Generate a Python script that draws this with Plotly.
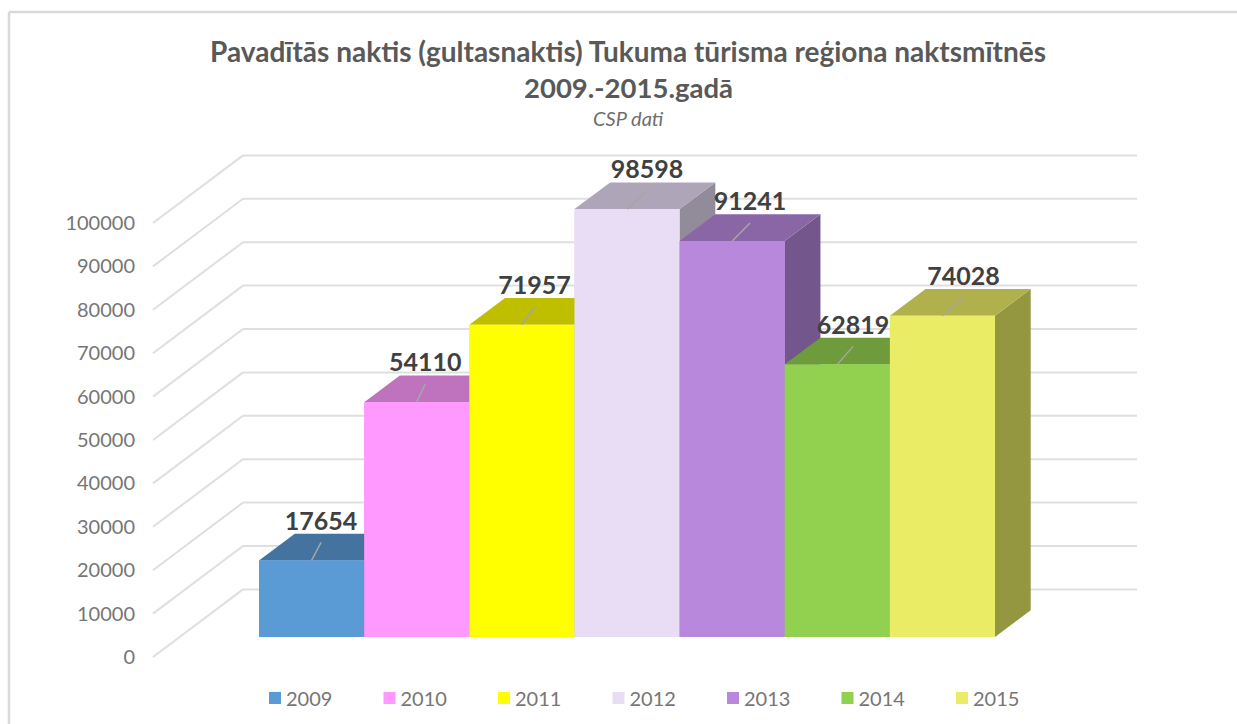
import plotly.graph_objects as go

# ---- data ----
years = ["2009", "2010", "2011", "2012", "2013", "2014", "2015"]
nights = [17654, 54110, 71957, 98598, 91241, 62819, 74028]
front_colors = ["#5B9BD5", "#FF99FF", "#FFFF00", "#E9DCF5", "#B888DD", "#92D050", "#EAEC66"]
top_colors = ["#44739F", "#BF73BF", "#BFBF00", "#AFA5B8", "#8A66A6", "#6E9C3C", "#B0B14D"]
side_colors = ["#3A6186", "#A061A0", "#A0A000", "#928B9A", "#73568C", "#5C8232", "#959640"]
axis_ticks = list(range(0, 100001, 10000))
label_dx = [0.09, 0.08, 0.12, 0.19, 0.17, 0.15, 0.20]   # label shift to the right, in bar widths

title_lines = ["Pavadītās naktis (gultasnaktis) Tukuma tūrisma reģiona naktsmītnēs",
               "2009.-2015.gadā"]
subtitle = "CSP dati"

# ---- geometry of the oblique projection (pixels -> axis units) ----
W, H = 1237, 724
M_LEFT = 136
PX_PER_BAR = 105.14
PX_PER_VAL = 0.00434
X0_PX = 311.6      # pixel of first bar centre
Y0_PX = 657.0      # pixel of value 0 on the wall's front edge

BAR_BASE = (Y0_PX - 637) / PX_PER_VAL
BAR_DX = 35.7 / PX_PER_BAR
BAR_DV = 26.7 / PX_PER_VAL
WALL_LEFT = (153 - X0_PX) / PX_PER_BAR
WALL_DX = 90 / PX_PER_BAR
WALL_DV = 67.6 / PX_PER_VAL
WALL_RIGHT = (1137 - X0_PX) / PX_PER_BAR
LABEL_UP = 37 / PX_PER_VAL
LEADER_UP = 18 / PX_PER_VAL

xr = [(M_LEFT - X0_PX) / PX_PER_BAR, (W - X0_PX) / PX_PER_BAR]
yr = [(Y0_PX - H) / PX_PER_VAL, Y0_PX / PX_PER_VAL]

fig = go.Figure()

# real bars (front faces, provide the legend)
for i, (yr_name, v) in enumerate(zip(years, nights)):
    fig.add_trace(go.Bar(x=[i], y=[v], base=BAR_BASE, width=1, name=yr_name,
                         marker=dict(color=front_colors[i], line=dict(width=0)),
                         hoverinfo="name+y"))


def poly(xs, ys, color):
    fig.add_trace(go.Scatter(x=xs, y=ys, mode="lines", fill="toself", fillcolor=color,
                             line=dict(width=0), showlegend=False, hoverinfo="skip"))


# faces, painted left to right so nearer bars cover farther ones
for i, v in enumerate(nights):
    t = BAR_BASE + v
    l, r = i - 0.5, i + 0.5
    poly([r, r + BAR_DX, r + BAR_DX, r, r],
         [BAR_BASE, BAR_BASE + BAR_DV, t + BAR_DV, t, BAR_BASE], side_colors[i])
    poly([l, r, r + BAR_DX, l + BAR_DX, l], [t, t, t + BAR_DV, t + BAR_DV, t], top_colors[i])
    poly([l, r, r, l, l], [BAR_BASE, BAR_BASE, t, t, BAR_BASE], front_colors[i])

# leader lines
for i, v in enumerate(nights):
    t = BAR_BASE + v
    fig.add_trace(go.Scatter(x=[i, i + label_dx[i]], y=[t, t + LEADER_UP], mode="lines",
                             line=dict(color="#A6A6A6", width=1.5),
                             showlegend=False, hoverinfo="skip"))

# data labels
fig.add_trace(go.Scatter(
    x=[i + label_dx[i] for i in range(len(nights))],
    y=[BAR_BASE + v + LABEL_UP for v in nights],
    mode="text", text=[str(v) for v in nights], textposition="middle center",
    textfont=dict(family="Lato", size=25, color="#404040", weight="bold"),
    showlegend=False, hoverinfo="skip"))

# wall / back gridlines under everything
shapes = []
grid = dict(color="#DFDFDF", width=2)
for v in axis_ticks:
    shapes.append(dict(type="line", layer="below", xref="x", yref="y",
                       x0=WALL_LEFT, y0=v, x1=WALL_LEFT + WALL_DX, y1=v + WALL_DV, line=grid))
    shapes.append(dict(type="line", layer="below", xref="x", yref="y",
                       x0=WALL_LEFT + WALL_DX, y0=v + WALL_DV, x1=WALL_RIGHT, y1=v + WALL_DV, line=grid))

# chart-area border (top and left only are inside the picture)
pw = W - M_LEFT
border = dict(color="#D9D9D9", width=2.5)
bx = (9 - M_LEFT) / pw
by = 1 - 12 / H
shapes.append(dict(type="line", xref="paper", yref="paper", x0=bx, y0=by, x1=1, y1=by, line=border))
shapes.append(dict(type="line", xref="paper", yref="paper", x0=bx, y0=by, x1=bx, y1=0, line=border))

fig.update_layout(
    width=W, height=H, margin=dict(l=M_LEFT, r=0, t=0, b=0, autoexpand=False),
    paper_bgcolor="white", plot_bgcolor="white", barmode="overlay",
    font=dict(family="Lato", color="#6E6E6E"),
    title=dict(text="<b>" + title_lines[0] + "</b>", x=628 / W, xanchor="center",
               y=1 - 52 / H, yanchor="middle",
               font=dict(family="Lato", size=28, color="#595959")),
    xaxis=dict(range=xr, visible=False, fixedrange=True),
    yaxis=dict(range=yr, tickmode="array", tickvals=axis_ticks,
               ticktext=[str(v) for v in axis_ticks], showgrid=False, zeroline=False,
               showline=False, ticks="", tickfont=dict(family="Lato", size=20, color="#767676"),
               fixedrange=True),
    legend=dict(orientation="h", x=(255 - M_LEFT) / pw, xanchor="left", y=1 - 698 / H, yanchor="middle",
                entrywidth=69.5, entrywidthmode="pixels", traceorder="normal",
                font=dict(family="Lato", size=20, color="#767676"), bgcolor="rgba(0,0,0,0)"),
    shapes=shapes,
    annotations=[
        dict(text="<b>" + title_lines[1] + "</b>", xref="paper", yref="paper",
             x=(628 - M_LEFT) / pw, y=1 - 87 / H, yanchor="middle", showarrow=False,
             font=dict(family="Lato", size=27.5, color="#595959")),
        dict(text="<i>" + subtitle + "</i>", xref="paper", yref="paper",
             x=(628 - M_LEFT) / pw, y=1 - 118 / H, yanchor="middle", showarrow=False,
             font=dict(family="Lato", size=20, color="#6E6E6E")),
    ],
)

fig.write_html("out.html", config=dict(displayModeBar=False),
               post_script="document.body.style.margin='0';"
                           "document.querySelectorAll('.legendtext').forEach(function(t){t.setAttribute('x','31');});")
